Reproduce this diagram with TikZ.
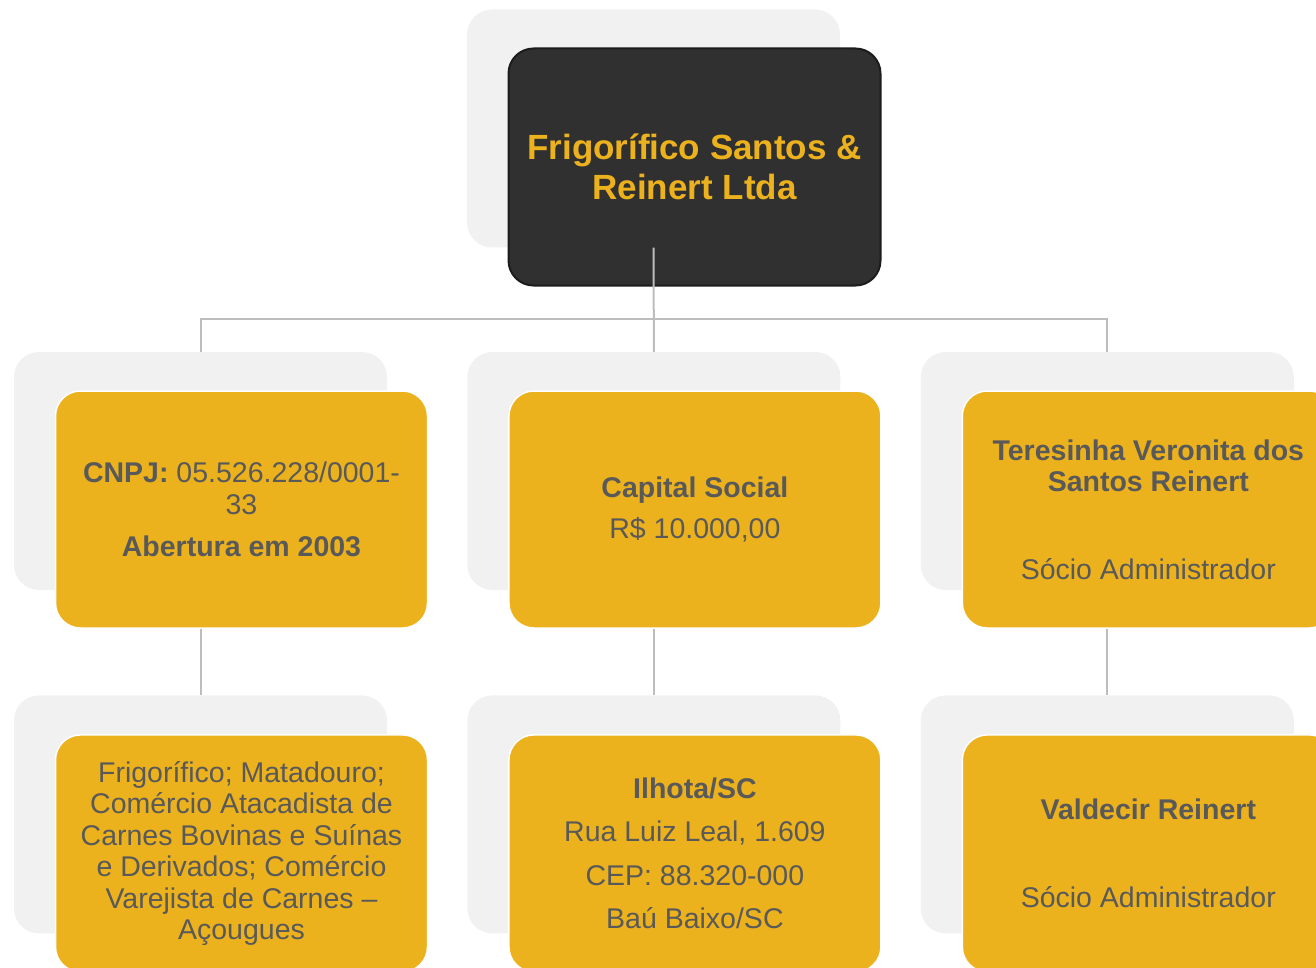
\documentclass[tikz,border=0pt]{standalone}
\usepackage{fontspec}
\setmainfont{Liberation Sans}
\usetikzlibrary{positioning}
\definecolor{gold}{HTML}{ECB21E}
\definecolor{shade}{HTML}{F1F1F1}
\definecolor{ink}{HTML}{595959}
\definecolor{coal}{HTML}{303030}
\definecolor{coalline}{HTML}{1C1C1C}
\definecolor{wire}{HTML}{BDBDBD}

\begin{document}
\begin{tikzpicture} [x=1pt,
    y=-1pt,
    link/.style={draw=wire, line width=2pt},
    back box/.style={rectangle, rounded corners=25pt, fill=shade,
        minimum width=373pt, minimum height=238pt, inner sep=0pt},
    main box/.style={rectangle, rounded corners=25pt, fill=gold,
        draw=white, line width=1.5pt, minimum width=372pt,
        minimum height=237pt, inner sep=0pt, align=center, text=ink,
        font=\fontsize{28.5pt}{31.5pt}\selectfont},
    head box/.style={main box, fill=coal, draw=coalline, line width=2pt,
        text=gold, font=\fontsize{35pt}{40pt}\selectfont\bfseries}
  ]

  \clip (0, 0) rectangle (1316, 968);

  % grey backing cards
  \node [back box] (shtop) at (653.5, 128.5) {};
  \node [back box] (shA) at (200.5, 471) {};
  \node [back box, right = 80pt of shA] (shB) {};
  \node [back box, right = 80pt of shB] (shC) {};
  \node [back box, below = 105pt of shA] (shD) {};
  \node [back box, below = 105pt of shB] (shE) {};
  \node [back box, below = 105pt of shC] (shF) {};

  \node [head box] (empresa) at ([shift={(41pt,-38.5pt)}]shtop.center)
  {Frigorífico Santos \&\\Reinert Ltda};

  \node [main box] (cnpj) at ([shift={(41pt,-38.5pt)}]shA.center)
  {\textbf{CNPJ:} 05.526.228/0001-\\33\\[11pt]\textbf{Abertura em 2003}};

  \node [main box] (capital) at ([shift={(41pt,-38.5pt)}]shB.center)
  {\textbf{Capital Social}\\[10pt]R\$ 10.000,00};

  \node [main box] (socia) at ([shift={(41pt,-38.5pt)}]shC.center)
  {\textbf{Teresinha Veronita dos}\\\textbf{Santos Reinert}\\[56pt]Sócio Administrador};

  \node [main box] (ramo) at ([shift={(41pt,-39pt)}]shD.center)
  {Frigorífico; Matadouro;\\Comércio Atacadista de\\Carnes Bovinas e Suínas\\e Derivados; Comércio\\Varejista de Carnes –\\Açougues};

  \node [main box] (sede) at ([shift={(41pt,-39pt)}]shE.center)
  {\textbf{Ilhota/SC}\\[12pt]Rua Luiz Leal, 1.609\\[12pt]CEP: 88.320-000\\[12pt]Baú Baixo/SC};

  \node [main box] (socio) at ([shift={(41pt,-39pt)}]shF.center)
  {\textbf{Valdecir Reinert}\\[56pt]Sócio Administrador};

  %%%%%%%%%%%%%%%%%%%%%%%%%%%%%%

  \draw [link] (shtop.south) -- (shB.north);
  \draw [link] (shA.north) -- ++(0, -33) -| (shC.north);
  \draw [link] (shA |- cnpj.south) -- (shD.north);
  \draw [link] (shB |- capital.south) -- (shE.north);
  \draw [link] (shC |- socia.south) -- (shF.north);

\end{tikzpicture}
\end{document}
